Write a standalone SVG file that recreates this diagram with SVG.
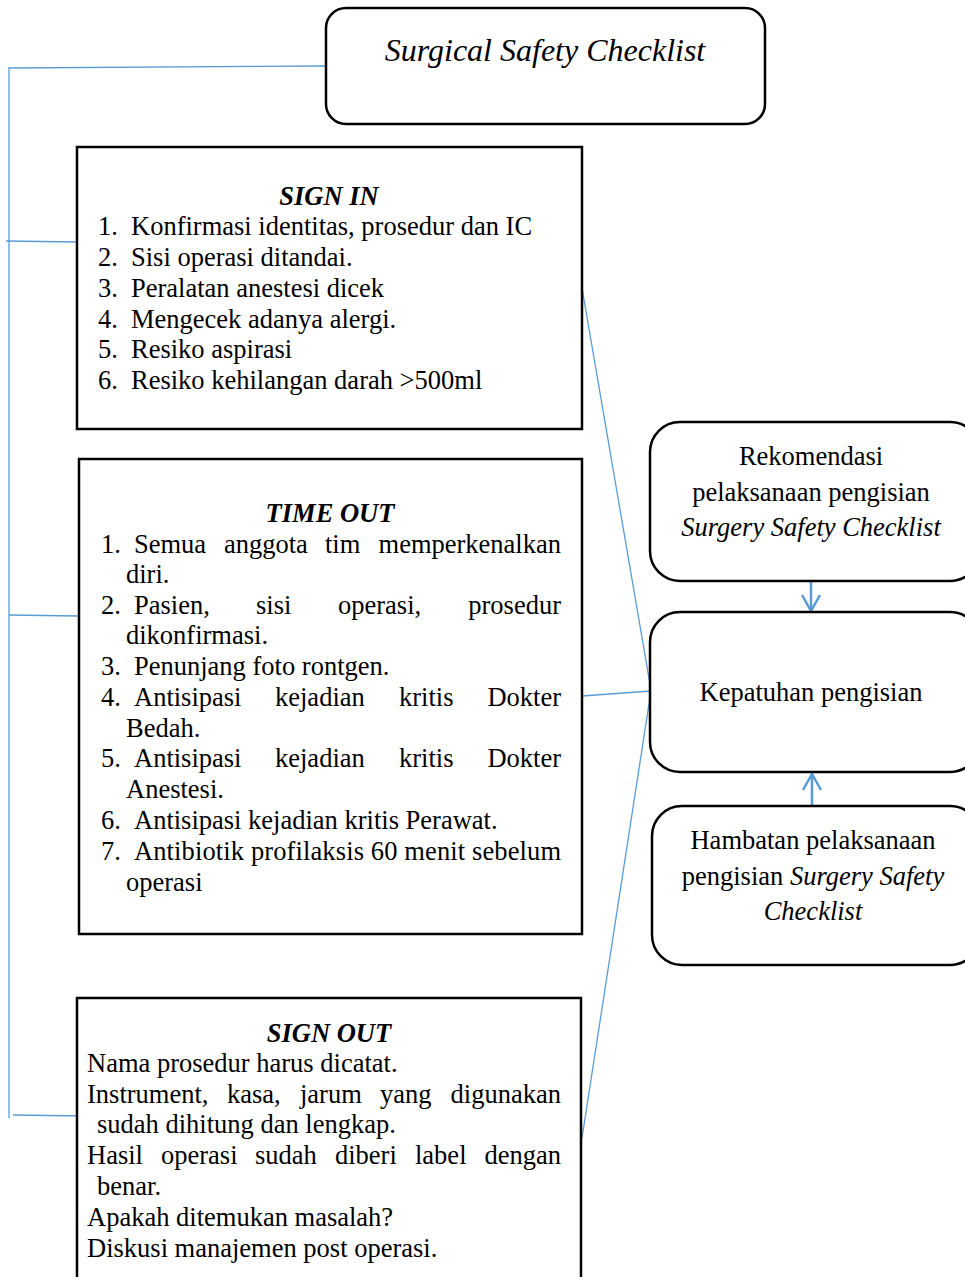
<svg xmlns="http://www.w3.org/2000/svg" width="965" height="1277" viewBox="0 0 965 1277">
<style>
text{font-family:"Liberation Serif","Times New Roman",serif;font-size:26.5px;fill:#000}
.box{fill:#fff;stroke:#000;stroke-width:2.5}
.c{text-anchor:middle}
.e{text-anchor:end}
.i{font-style:italic}
.bi{font-style:italic;font-weight:bold}
.ln{stroke:#5B9BD5;stroke-width:1.3;fill:none}
.ar{stroke:#5B9BD5;stroke-width:2.5;fill:none}
</style>
<defs>
<marker id="open" markerWidth="22" markerHeight="22" refX="17" refY="10" orient="auto" markerUnits="userSpaceOnUse">
<path d="M1,1 L17,10 L1,19" fill="none" stroke="#5B9BD5" stroke-width="2.5"/>
</marker>
</defs>
<rect width="965" height="1277" fill="#fff"/>
<g id="connectors">
<path class="ln" d="M9,67 L9,1118"/>
<path class="ln" d="M9,68 L326,66"/>
<path class="ln" d="M6,241 L76,242"/>
<path class="ln" d="M9,615 L78,616"/>
<path class="ln" d="M13,1115 L84,1116"/>
<path class="ln" d="M582,288 L651,690"/>
<path class="ln" d="M582,696 L651,691"/>
<path class="ln" d="M582,1138 L651,691"/>
<path class="ar" d="M811,582 L811,611" marker-end="url(#open)"/>
<path class="ar" d="M812,806 L812,774" marker-end="url(#open)"/>
</g>
<g id="title">
<rect class="box" x="326" y="8" width="439" height="116" rx="20"/>
<text class="c i" x="545" y="61" style="font-size:32px">Surgical Safety Checklist</text>
</g>
<g id="sign-in">
<rect class="box" x="77" y="147" width="505" height="282"/>
<text class="c bi" x="329" y="205">SIGN IN</text>
<text x="98" y="235">1.</text><text x="131" y="235">Konfirmasi identitas, prosedur dan IC</text>
<text x="98" y="266">2.</text><text x="131" y="266">Sisi operasi ditandai.</text>
<text x="98" y="297">3.</text><text x="131" y="297">Peralatan anestesi dicek</text>
<text x="98" y="328">4.</text><text x="131" y="328">Mengecek adanya alergi.</text>
<text x="98" y="358">5.</text><text x="131" y="358">Resiko aspirasi</text>
<text x="98" y="389">6.</text><text x="131" y="389">Resiko kehilangan darah &gt;500ml</text>
</g>
<g id="time-out">
<rect class="box" x="79" y="459" width="503" height="475"/>
<text class="c bi" x="330" y="522">TIME OUT</text>
<text x="101" y="553">1.</text><text x="134" y="553">Semua</text><text x="224" y="553">anggota</text><text x="325" y="553">tim</text><text class="e" x="561" y="553">memperkenalkan</text>
<text x="126" y="583">diri.</text>
<text x="101" y="614">2.</text><text x="134" y="614">Pasien,</text><text x="256" y="614">sisi</text><text x="338" y="614">operasi,</text><text class="e" x="561" y="614">prosedur</text>
<text x="126" y="644">dikonfirmasi.</text>
<text x="101" y="675">3.</text><text x="134" y="675">Penunjang foto rontgen.</text>
<text x="101" y="706">4.</text><text x="134" y="706">Antisipasi</text><text x="275" y="706">kejadian</text><text x="399" y="706">kritis</text><text class="e" x="561" y="706">Dokter</text>
<text x="126" y="737">Bedah.</text>
<text x="101" y="767">5.</text><text x="134" y="767">Antisipasi</text><text x="275" y="767">kejadian</text><text x="399" y="767">kritis</text><text class="e" x="561" y="767">Dokter</text>
<text x="126" y="798">Anestesi.</text>
<text x="101" y="829">6.</text><text x="134" y="829">Antisipasi kejadian kritis Perawat.</text>
<text x="101" y="860">7.</text><text x="134" y="860" textLength="427" lengthAdjust="spacing">Antibiotik profilaksis 60 menit sebelum</text>
<text x="126" y="891">operasi</text>
</g>
<g id="sign-out">
<rect class="box" x="77" y="998" width="504" height="300"/>
<text class="c bi" x="329" y="1042">SIGN OUT</text>
<text x="87" y="1072">Nama prosedur harus dicatat.</text>
<text x="87" y="1103">Instrument,</text><text x="227" y="1103">kasa,</text><text x="300" y="1103">jarum</text><text x="380" y="1103">yang</text><text class="e" x="561" y="1103">digunakan</text>
<text x="97" y="1133">sudah dihitung dan lengkap.</text>
<text x="87" y="1164">Hasil</text><text x="161" y="1164">operasi</text><text x="255" y="1164">sudah</text><text x="335" y="1164">diberi</text><text x="415" y="1164">label</text><text class="e" x="561" y="1164">dengan</text>
<text x="97" y="1195">benar.</text>
<text x="87" y="1226">Apakah ditemukan masalah?</text>
<text x="87" y="1257">Diskusi manajemen post operasi.</text>
</g>
<g id="rekomendasi">
<rect class="box" x="650" y="422" width="330" height="159" rx="30"/>
<text class="c" x="811" y="465">Rekomendasi</text>
<text class="c" x="811" y="501">pelaksanaan pengisian</text>
<text class="c i" x="811" y="536">Surgery Safety Checklist</text>
</g>
<g id="kepatuhan">
<rect class="box" x="650" y="612" width="330" height="160" rx="30"/>
<text class="c" x="811" y="701">Kepatuhan pengisian</text>
</g>
<g id="hambatan">
<rect class="box" x="652" y="806" width="328" height="159" rx="30"/>
<text class="c" x="813" y="849">Hambatan pelaksanaan</text>
<text class="c" x="813" y="885">pengisian <tspan class="i">Surgery Safety</tspan></text>
<text class="c i" x="813" y="920">Checklist</text>
</g>
</svg>
